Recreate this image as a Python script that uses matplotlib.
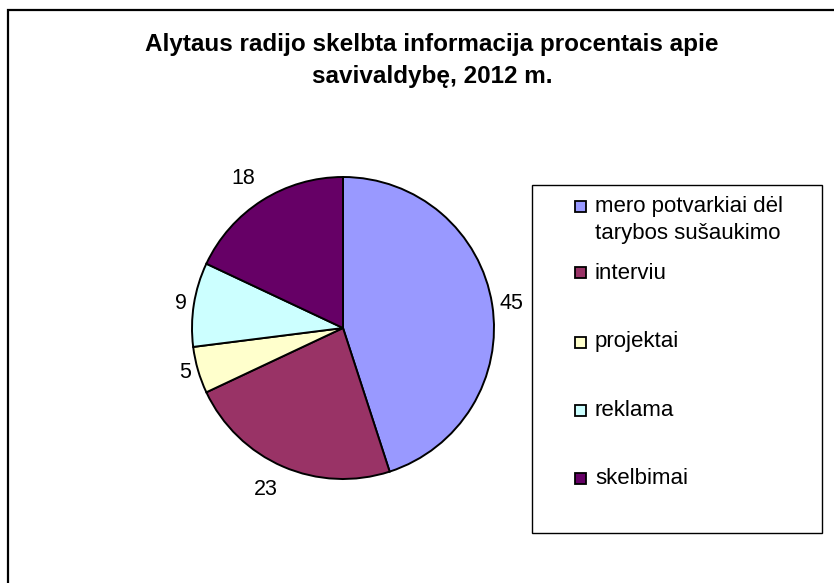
import matplotlib
matplotlib.use("Agg")
import matplotlib.pyplot as plt
from matplotlib.patches import Rectangle
import numpy as np

# ---- data ----
categories = ["mero potvarkiai dėl\ntarybos sušaukimo", "interviu", "projektai", "reklama", "skelbimai"]
values = [45, 23, 5, 9, 18]
colors = ["#9999FF", "#993366", "#FFFFCC", "#CCFFFF", "#660066"]
title = "Alytaus radijo skelbta informacija procentais apie\nsavivaldybę, 2012 m."

W, H = 834, 583
plt.rcParams['font.family'] = ['Liberation Sans', 'DejaVu Sans']
fig = plt.figure(figsize=(W / 100, H / 100), dpi=100)

def fx(px):
    return px / W

def fy(py):
    return 1 - py / H

# outer frame (right/bottom edges fall outside the picture)
fig.add_artist(Rectangle((fx(8), fy(600)), fx(850) - fx(8), fy(10) - fy(600),
                         transform=fig.transFigure, fill=False, edgecolor="black", lw=1.6))

# pie
cx, cy, R = 343, 328, 151
ax = fig.add_axes([fx(cx - R), fy(cy + R), fx(2 * R), (2 * R) / H])
wedges, texts = ax.pie(values, colors=colors, startangle=90, counterclock=False,
                       labels=[str(v) for v in values], labeldistance=1.05,
                       wedgeprops=dict(edgecolor="black", linewidth=1.4),
                       textprops=dict(fontsize=15.5, color="black"))
for t in texts:
    x, y = t.get_position()
    r = np.hypot(x, y)
    c, s = x / r, y / r
    t.set_ha("left" if c > 0.3 else ("right" if c < -0.3 else "center"))
    if abs(s) > 0.3:
        t.set_va("bottom" if s > 0 else "top")
        t.set_position((x * 1.04, y * 1.04))
    else:
        t.set_va("center")
ax.set_xlim(-1, 1)
ax.set_ylim(-1, 1)
ax.set_aspect("equal")
ax.axis("off")

# title
fig.text(fx(432), fy(61), title, ha="center", va="center", fontsize=17.5,
         fontweight="bold", linespacing=1.5)

# legend box
lx0, ly0, lx1, ly1 = 532, 185, 822, 533
fig.add_artist(Rectangle((fx(lx0), fy(ly1)), fx(lx1) - fx(lx0), fy(ly0) - fy(ly1),
                         transform=fig.transFigure, fill=False, edgecolor="black", lw=1.0))
marker_y = [206, 273, 342, 410, 478]
text_y = [220, 273, 342, 410, 478]
ms = 11
for lab, col, my, ty in zip(categories, colors, marker_y, text_y):
    fig.add_artist(Rectangle((fx(580 - ms / 2), fy(my + ms / 2)), ms / W, ms / H,
                             transform=fig.transFigure, facecolor=col,
                             edgecolor="black", lw=1.3))
    fig.text(fx(595), fy(ty), lab, ha="left", va="center",
             fontsize=16, linespacing=1.4, transform=fig.transFigure)

fig.savefig("out.png", dpi=100)
